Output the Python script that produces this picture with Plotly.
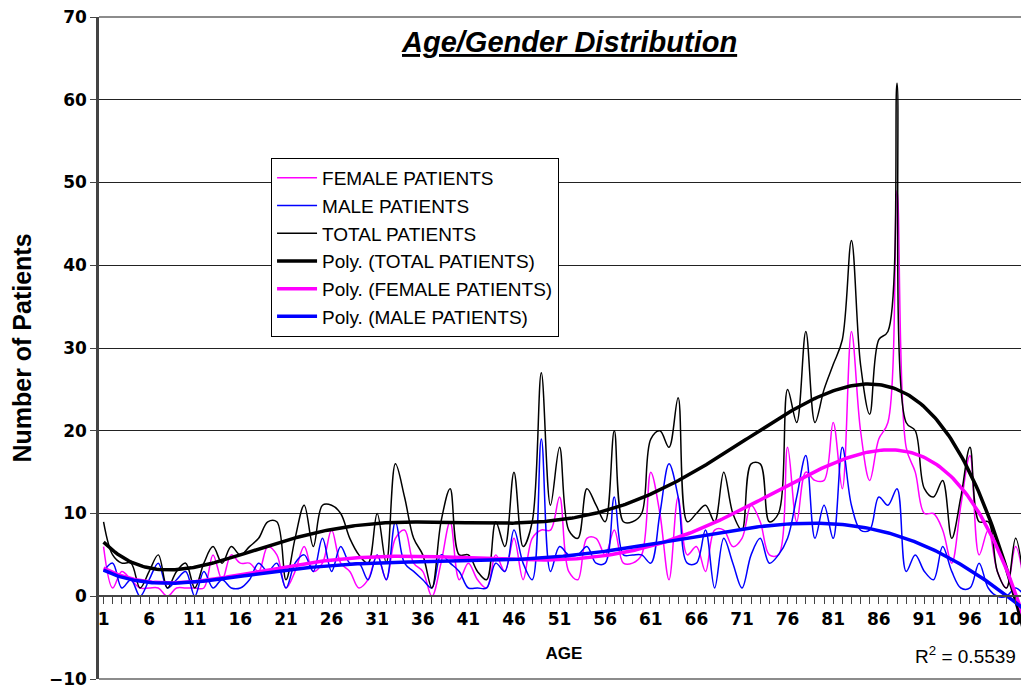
import numpy as np
import plotly.graph_objects as go

# patients per age
ages = list(range(1, 103))

female_patients = [6, 1, 3, 2, 1, 1, 1, 0, 1, 1, 1, 1, 5, 2, 5, 4, 4, 3, 6, 5, 1,
                   3, 6, 3, 4, 8, 4, 3, 1, 2, 5, 2, 7, 8, 4, 3, 0, 4, 9, 2, 4, 2,
                   1, 5, 3, 7, 2, 7, 8, 8, 12, 3, 2, 7, 7, 5, 8, 4, 4, 5, 15, 10,
                   2, 12, 5, 6, 3, 8, 8, 6, 7, 11, 9, 5, 5, 18, 9, 15, 14, 14, 21, 13,
                   32, 20, 14, 19, 21, 49, 18, 15, 10, 10, 8, 4, 11, 17, 5, 8, 3, 1, 6, 1]
male_patients = [3, 4, 1, 2, 0, 2, 4, 1, 2, 3, 0, 3, 1, 2, 1, 1, 2, 4, 3, 4, 1,
                 4, 5, 3, 7, 3, 6, 4, 4, 2, 5, 2, 9, 4, 3, 2, 1, 5, 4, 3, 1, 1,
                 1, 4, 3, 8, 4, 2, 19, 3, 6, 5, 5, 6, 4, 4, 12, 5, 5, 5, 4, 10,
                 16, 12, 4, 4, 8, 1, 7, 4, 1, 5, 7, 4, 5, 7, 12, 17, 7, 11, 7, 18,
                 11, 8, 8, 12, 11, 13, 3, 5, 3, 2, 6, 3, 1, 1, 4, 1, 0, 0, 1, 0]
total_patients = [9, 5, 4, 4, 1, 3, 5, 1, 3, 4, 1, 4, 6, 4, 6, 5, 6, 7, 9, 9, 2,
                  7, 11, 6, 11, 11, 10, 7, 5, 4, 10, 4, 16, 12, 7, 5, 1, 9, 13, 5, 5, 3,
                  2, 9, 6, 15, 6, 9, 27, 11, 18, 8, 7, 13, 11, 9, 20, 9, 9, 10, 19, 20,
                  18, 24, 9, 10, 11, 9, 15, 10, 8, 16, 16, 9, 10, 25, 21, 32, 21, 25, 28, 31,
                  43, 28, 22, 31, 32, 62, 21, 20, 13, 12, 14, 7, 12, 18, 9, 9, 3, 1, 7, 1]

MAGENTA = '#FF00FF'
BLUE = '#0000FF'
BLACK = '#000000'
Y_MIN, Y_MAX = -10, 70


def poly_trend(values, order=6):
    # Excel style polynomial trendline
    p = np.polynomial.Polynomial.fit(ages, values, order)
    xs = np.linspace(ages[0], ages[-1], 400)
    return xs, p(xs)


fig = go.Figure()

# raw series (smoothed lines)
for name, vals, col in [('FEMALE PATIENTS', female_patients, MAGENTA),
                        ('MALE PATIENTS', male_patients, BLUE),
                        ('TOTAL PATIENTS', total_patients, BLACK)]:
    fig.add_trace(go.Scatter(x=ages, y=vals, mode='lines', name=name,
                             line=dict(color=col, width=1.5, shape='spline', smoothing=1.0)))

# trendlines
for name, vals, col in [('Poly. (TOTAL PATIENTS)', total_patients, BLACK),
                        ('Poly. (FEMALE PATIENTS)', female_patients, MAGENTA),
                        ('Poly. (MALE PATIENTS)', male_patients, BLUE)]:
    tx, ty = poly_trend(vals)
    fig.add_trace(go.Scatter(x=tx, y=ty, mode='lines', name=name,
                             line=dict(color=col, width=3.5)))

tick_font = dict(family='DejaVu Sans', size=17, color='black', weight='bold')

# the page body adds an 8px offset, so the figure is sized to fit the window
fig.update_layout(
    width=1021, height=682,
    margin=dict(l=91, r=0, t=9, b=11),
    paper_bgcolor='white', plot_bgcolor='white',
    font=dict(family='Liberation Sans, Arial', color='black'),
    showlegend=True,
    legend=dict(x=0.185, y=0.787, xanchor='left', yanchor='top',
                bgcolor='white', bordercolor='black', borderwidth=1,
                font=dict(family='Liberation Sans, Arial', size=19),
                itemwidth=40, traceorder='normal'),
    xaxis=dict(range=[0.5, 102.47], anchor='free', position=0.125,
               automargin=False, ticklabeloverflow='allow',
               tickmode='linear', tick0=1, dtick=5,
               ticks='outside', ticklen=7, tickcolor='#444', tickwidth=1,
               minor=dict(tick0=1, dtick=1, ticks='outside', ticklen=7,
                          tickcolor='#444', tickwidth=1),
               showline=True, linecolor='#444', linewidth=2,
               showgrid=False, zeroline=False,
               tickfont=tick_font,
               title=dict(text='<b>AGE</b>', font=dict(size=17), standoff=18)),
    yaxis=dict(range=[Y_MIN, Y_MAX], dtick=10, automargin=False,
               ticklabeloverflow='allow',
               ticks='outside', ticklen=6, tickcolor='#444',
               showline=True, linecolor='#444', linewidth=2.5,
               showgrid=True, gridcolor='#222', gridwidth=1,
               zeroline=False, tickfont=tick_font,
               title=dict(text='<b>Number of Patients</b>', font=dict(size=25),
                          standoff=12)),
)

# top and bottom frame lines of the plot area
for yv in (0, 1):
    fig.add_shape(type='line', xref='paper', yref='paper', x0=0, x1=1, y0=yv, y1=yv,
                  line=dict(color='#666', width=1.5))

fig.add_annotation(x=0.505, y=0.99, xref='paper', yref='paper', showarrow=False,
                   text='<b><i><u>Age/Gender Distribution</u></i></b>',
                   font=dict(size=29, color='black'))
fig.add_annotation(x=0.988, y=0.036, xref='paper', yref='paper', showarrow=False,
                   xanchor='right', yanchor='middle',
                   text='R<sup>2</sup> = 0.5539', font=dict(size=19, color='black'))

fig.write_html("out.html")
